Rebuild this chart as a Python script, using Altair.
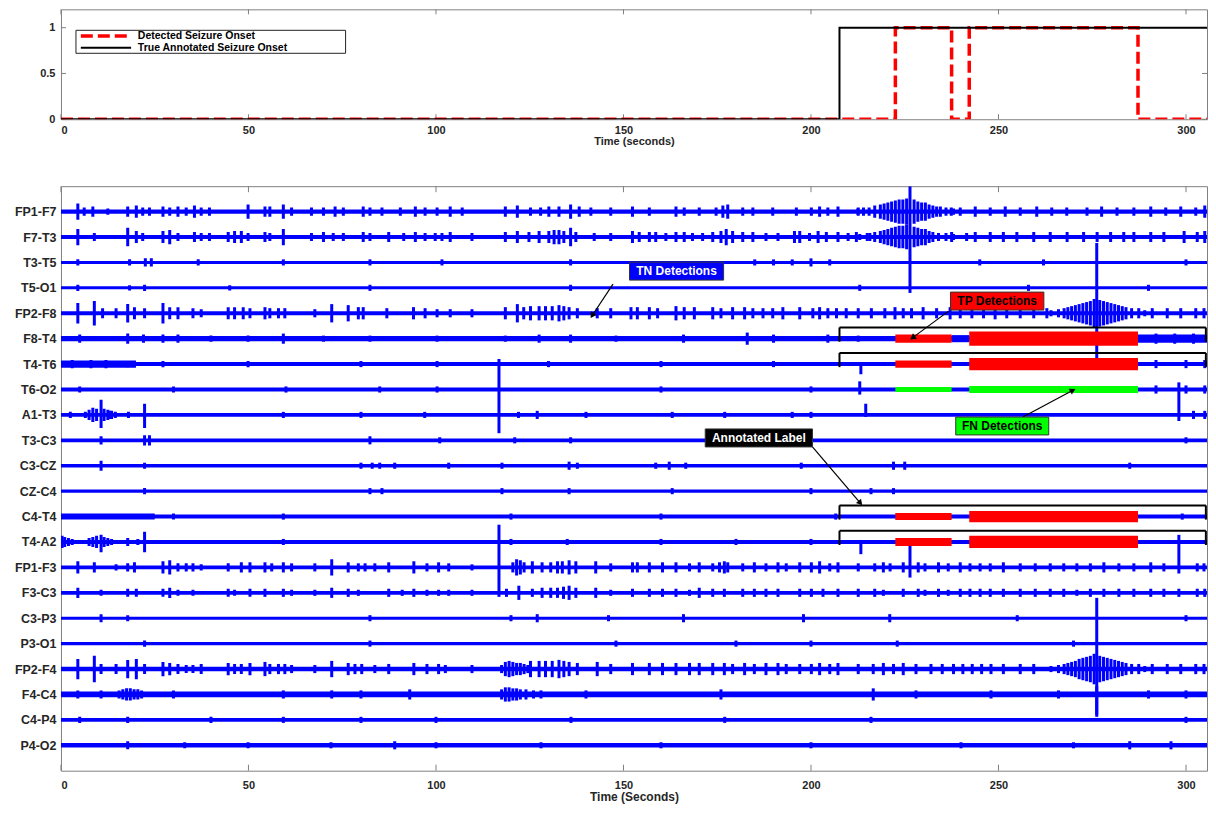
import json
import math
import altair as alt
import pandas as pd

# ---------------- data ----------------
CHANNELS = ["FP1-F7", "F7-T3", "T3-T5", "T5-O1", "FP2-F8", "F8-T4", "T4-T6", "T6-O2",
            "A1-T3", "T3-C3", "C3-CZ", "CZ-C4", "C4-T4", "T4-A2", "FP1-F3", "F3-C3",
            "C3-P3", "P3-O1", "FP2-F4", "F4-C4", "C4-P4", "P4-O2"]
BASE_W = [2.0, 2.0, 1.5, 1.5, 2.0, 2.5, 2.0, 2.0, 1.8, 1.8, 1.8, 1.5,
          2.0, 2.0, 1.8, 1.8, 1.5, 1.5, 2.2, 2.8, 1.8, 2.3]
X_TICKS = [0, 50, 100, 150, 200, 250, 300]
Y_TICKS_TOP = [0, 0.5, 1]
T_END = 305.6          # visible end of the time axis (s)
GAP = 25               # vertical offset between channels

# top panel step signals
TRUE_T = [0, 207.6, 207.6, 307.2]
TRUE_V = [0, 0, 1, 1]
DET_T = [0, 222.5, 222.5, 237.5, 237.5, 242.2, 242.2, 287.2, 287.2, 307.2]
DET_V = [0, 0, 1, 1, 0, 0, 1, 1, 0, 0]
SERIES = ["Detected Seizure Onset", "True Annotated Seizure Onset"]
# legend box (time, value) and sample positions
LEG_BOX = (4.0, 75.9, 0.72, 0.971)
LEG_SAMPLE = (5.3, 18.7)
LEG_TEXT_T = 20.5
LEG_ROW_V = [0.91, 0.78]

ANNOT_ONSET = 207.6
DET_SEGMENTS = [(222.5, 237.5), (242.2, 287.2)]
SEIZURE_CH = {"F8-T4": ("TP", [4, 7]), "T4-T6": ("TP", [3.5, 6]), "T6-O2": ("FN", [2.5, 3.5]),
              "C4-T4": ("TP", [3.5, 5.5]), "T4-A2": ("TP", [4, 6])}
BRACKET_CH = ["F8-T4", "T4-T6", "C4-T4", "T4-A2"]

# spikes: (time s, half amplitude)
SPIKES = {
    "FP1-F7": [(4.5, 8), (6.2, 4), (8.5, 5), (12.5, 3), (17.8, 5), (20.1, 6), (21.8, 4), (23.6, 4), (27.2, 5), (29.0, 4),
               (31.2, 5), (33.4, 4), (35.6, 6), (37.4, 4), (39.6, 4), (49.9, 7), (54.4, 5), (55.7, 5), (59.3, 7), (61.5, 4),
               (66.8, 4), (70.0, 4), (73.1, 5), (75.3, 4), (80.6, 5), (82.4, 4), (85.6, 4), (90.5, 4), (94.5, 5), (97.1, 4),
               (100.3, 4), (103.8, 5), (107.0, 4), (118.5, 5), (121.7, 6), (125.2, 4), (127.9, 4), (130.1, 5), (132.8, 5),
               (135.9, 7), (138.2, 5), (141.3, 4), (146.6, 4), (152.4, 5), (156.9, 4), (164.0, 5), (166.2, 4), (170.2, 4),
               (174.7, 4), (176.5, 6), (177.8, 7), (181.8, 4), (184.5, 4), (189.8, 4), (196.1, 4), (200.1, 4), (202.3, 5),
               (204.5, 4), (207.2, 5), (212.6, 4), (237.4, 4), (239.8, 4), (243.8, 5), (247.8, 4), (251.8, 5), (255.8, 4),
               (260.2, 5), (264.2, 4), (268.2, 4), (273.6, 4), (277.5, 5), (281.6, 4), (286.1, 4), (290.6, 5), (294.6, 4),
               (298.6, 5), (302.6, 4), (305.0, 6),
               # burst around 226 s
               (212.5, 3), (214, 4), (215.5, 4), (217, 6), (218.5, 7), (219.5, 8), (220.5, 9), (221.5, 10), (222.5, 11),
               (223.5, 12), (224.5, 12), (225.5, 13), (227.5, 12), (228.5, 10), (229.5, 9), (230.5, 9), (231.5, 7),
               (232.5, 6), (233.5, 5), (234.5, 5), (236, 4), (238, 3)],
    "F7-T3": [(4.5, 8), (8.9, 4), (17.8, 9), (20.1, 6), (21.8, 4), (27.2, 6), (29.0, 7), (31.2, 4), (35.6, 5), (37.4, 4),
              (39.6, 4), (44.6, 5), (46.3, 6), (48.1, 6), (49.9, 4), (54.4, 5), (55.7, 4), (59.3, 8), (66.8, 4), (70.0, 5),
              (72.6, 4), (75.3, 4), (80.6, 5), (82.4, 4), (87.4, 5), (91.4, 4), (94.5, 5), (97.1, 4), (99.8, 4), (101.6, 4),
              (103.8, 5), (109.6, 4), (118.5, 5), (121.7, 6), (124.8, 5), (127.5, 6), (130.1, 6), (131.5, 7), (132.8, 7),
              (134.1, 6), (135.9, 9), (137.3, 5), (142.2, 4), (146.6, 4), (152.4, 6), (154.2, 5), (156.9, 5), (158.6, 5),
              (161.3, 4), (164.0, 5), (166.2, 5), (168.4, 4), (171.1, 4), (173.8, 5), (176.0, 6), (177.4, 8), (179.1, 6),
              (181.8, 5), (184.5, 5), (188.0, 4), (191.2, 4), (195.6, 6), (197.0, 6), (199.6, 4), (201.9, 6), (204.1, 5),
              (207.2, 5), (209.9, 4), (212.1, 5), (215.7, 4), (237.5, 5), (241.5, 4), (243.8, 5), (247.8, 5), (251.3, 5),
              (254.9, 5), (259.4, 5), (263.8, 5), (268.3, 5), (272.7, 5), (276.3, 5), (279.9, 5), (283.4, 5), (286.1, 5),
              (290.6, 5), (294.1, 5), (299.5, 6), (303.0, 5), (305.0, 6),
              (213, 3), (215, 4), (217, 5), (218.5, 6), (219.5, 7), (220.5, 8), (221.5, 9), (222.5, 10), (223.5, 11),
              (224.5, 11), (225.5, 12), (227.5, 10), (228.5, 9), (229.5, 8), (230.5, 8), (231.5, 6), (232.5, 5),
              (234, 4), (236, 4), (238, 3)],
    "T3-T5": [(4.5, 3), (18.3, 3), (22.5, 4), (24.1, 4), (36.6, 3), (59.3, 3), (82.4, 3), (101.6, 3), (135.9, 3),
              (185.0, 3), (190.0, 3), (195.0, 3), (200.0, 4), (205.0, 3), (245.0, 3), (262.0, 3), (300.0, 3)],
    "T5-O1": [(4.5, 3), (18.3, 2.5), (22.3, 3), (45.0, 2.5), (82.4, 3), (135.9, 3), (213.0, 3), (258.0, 3), (290.0, 3)],
    "FP2-F8": [(4.5, 10), (8.9, 12), (11.1, 5), (14.7, 5), (17.8, 9), (19.6, 6), (22.3, 5), (27.2, 10), (29.0, 6),
               (31.2, 6), (35.2, 5), (37.4, 4), (44.6, 6), (46.3, 6), (48.6, 6), (50.4, 5), (54.4, 6), (55.7, 5), (58.0, 5),
               (59.7, 5), (67.7, 4), (72.2, 9), (76.6, 8), (79.3, 6), (80.6, 6), (86.9, 5), (94.0, 6), (97.1, 5),
               (100.3, 4), (103.8, 4), (109.6, 4), (118.5, 6), (121.7, 9), (123.4, 6), (125.2, 7), (127.5, 7), (129.2, 7),
               (131.0, 7), (132.8, 8), (134.1, 7), (135.5, 6), (137.7, 5), (143.0, 5), (146.6, 5), (152.0, 6), (153.7, 6),
               (156.9, 6), (159.1, 5), (164.0, 7), (166.2, 6), (168.9, 6), (173.8, 6), (176.0, 5), (179.1, 6), (182.3, 6),
               (184.5, 5), (187.2, 5), (189.8, 5), (192.5, 6), (197.0, 6), (200.5, 5), (202.3, 6), (204.5, 5), (206.8, 5),
               (209.4, 5), (212.6, 5), (216.1, 5), (219.7, 5), (222.4, 6), (224.6, 5), (226.8, 5), (229.9, 6), (233.5, 5),
               (237.1, 6), (239.8, 5), (242.9, 5), (246.0, 5), (249.1, 6), (252.2, 5), (255.8, 5), (259.4, 5), (262.9, 5),
               (287.4, 5), (291.0, 5), (295.0, 5), (298.6, 5), (302.6, 5), (304.8, 5),
               (264, 3), (266, 4), (267.5, 5), (268.5, 6), (269.5, 7), (270.5, 8), (271.5, 9), (272.5, 10), (273.5, 11),
               (274.5, 12), (275.5, 14), (277, 13), (278, 12), (279, 11), (280, 10), (281, 9), (282, 8), (283, 7),
               (284, 6), (285.5, 5), (289, 3)],
    "F8-T4": [(5.0, 4), (17.8, 5), (22.0, 4), (27.2, 4), (31.2, 4), (40.0, 3), (49.9, 3), (59.3, 5), (70.0, 3), (82.4, 3),
              (100.3, 3), (118.5, 3), (127.5, 4), (135.9, 4), (148.0, 3), (166.0, 4), (183.0, 6), (190.0, 4), (204.5, 4),
              (212.6, 3), (292.0, 5), (297.0, 5), (302.0, 5)],
    "T4-T6": [(3.0, 4), (8.0, 4), (12.0, 4), (17.8, 3), (27.2, 3), (49.9, 3), (80.0, 3), (100.3, 3), (130.0, 3),
              (160.0, 3), (190.0, 3), (292.0, 4), (300.0, 4), (305.0, 4)],
    "T6-O2": [(5.0, 3), (30.0, 3), (60.0, 3), (85.0, 3), (100.3, 3), (160.0, 3), (200.0, 3), (292.0, 4), (300.0, 4),
              (305.0, 4)],
    "A1-T3": [(2.5, 3), (13.0, 4), (18.0, 3), (59.3, 3), (80.0, 3), (97.0, 3), (122.0, 3), (127.0, 4), (140.0, 3),
              (163.0, 3), (177.0, 3), (195.0, 3), (200.0, 3), (302.0, 4), (305.0, 4),
              (6.5, 3), (7.5, 5), (8.5, 7), (9.5, 6), (11.5, 6), (12.5, 5), (13.5, 4), (14.5, 3)],
    "T3-C3": [(10.7, 4), (22.3, 5), (23.6, 5), (82.4, 4), (101.0, 3), (121.0, 3), (135.9, 3), (182.0, 4), (300.0, 3)],
    "C3-CZ": [(10.7, 5), (22.3, 3), (80.0, 3), (83.0, 3), (85.0, 3), (89.0, 3), (103.4, 3), (117.6, 3), (135.5, 4),
              (137.7, 3), (158.6, 3), (162.2, 4), (166.6, 3), (197.4, 3), (222.0, 4), (225.0, 4), (285.0, 3)],
    "CZ-C4": [(22.3, 3), (82.4, 3), (85.6, 3), (117.6, 3), (135.5, 3), (163.0, 3), (200.0, 3), (216.0, 3), (222.0, 3)],
    "C4-T4": [(30.0, 3), (59.3, 3), (120.0, 3), (160.0, 3), (206.6, 3), (223.0, 3), (299.0, 3)],
    "T4-A2": [(2.0, 4), (17.8, 4), (20.5, 3), (59.3, 3), (120.0, 3), (135.0, 3), (160.0, 3), (180.0, 3), (200.0, 3),
              (0.3, 6), (1.0, 5), (3.0, 3), (7.5, 4), (8.5, 5), (9.5, 6), (11.5, 5), (12.5, 4), (13.5, 3)],
    "FP1-F3": [(4.5, 6), (8.9, 5), (14.7, 3), (17.8, 4), (19.6, 5), (27.2, 6), (29.0, 7), (31.2, 4), (33.4, 4), (35.2, 4),
               (37.4, 3), (44.6, 4), (48.1, 5), (50.4, 5), (54.4, 5), (56.2, 4), (59.3, 5), (61.5, 4), (67.7, 4), (72.2, 8),
               (76.6, 5), (79.3, 4), (81.1, 4), (83.7, 4), (87.4, 5), (94.1, 6), (97.6, 4), (100.7, 5), (103.4, 4),
               (109.6, 3), (125.7, 6), (128.3, 5), (130.6, 5), (132.4, 6), (133.7, 6), (135.5, 7), (137.3, 6), (142.6, 6),
               (146.6, 4), (152.4, 5), (153.7, 5), (156.9, 5), (160.4, 5), (164.0, 5), (167.6, 4), (170.2, 5), (173.8, 4),
               (175.6, 5), (176.9, 6), (177.8, 5), (181.8, 4), (184.9, 5), (188.0, 4), (191.2, 5), (193.4, 4), (197.0, 5),
               (200.1, 5), (202.3, 6), (205.0, 4), (207.2, 5), (212.6, 4), (217.0, 4), (219.3, 5), (221.1, 4), (224.6, 5),
               (228.6, 5), (230.4, 4), (234.0, 5), (236.6, 4), (239.8, 5), (242.4, 4), (245.1, 4), (247.8, 4), (251.3, 5),
               (255.8, 4), (259.8, 4), (263.8, 4), (267.4, 4), (270.9, 4), (274.5, 4), (278.1, 5), (282.1, 4), (286.1, 4),
               (290.6, 5), (294.1, 4), (303.0, 4), (304.8, 4),
               (120.5, 5), (121.5, 8), (122.5, 7), (123.5, 5)],
    "F3-C3": [(4.5, 5), (10.7, 3), (17.8, 4), (20.1, 4), (27.2, 4), (29.0, 5), (31.2, 3), (35.2, 3), (44.6, 4), (46.3, 3),
              (50.4, 4), (54.4, 4), (59.3, 4), (61.5, 3), (67.7, 3), (72.2, 5), (76.6, 4), (79.3, 3), (87.4, 4), (91.0, 3),
              (94.1, 4), (97.6, 3), (100.7, 3), (103.4, 3), (109.6, 3), (118.8, 4), (122.1, 7), (125.7, 4), (128.3, 5),
              (130.6, 5), (132.4, 5), (134.0, 6), (135.5, 7), (137.3, 5), (142.6, 5), (146.6, 3), (152.4, 4), (156.9, 4),
              (160.4, 4), (164.0, 4), (167.6, 3), (170.2, 5), (173.8, 4), (176.9, 4), (181.8, 4), (184.9, 4), (188.0, 4),
              (191.2, 4), (197.0, 4), (200.1, 4), (203.2, 4), (207.2, 4), (212.6, 4), (217.0, 4), (219.3, 3), (224.6, 4),
              (228.6, 4), (230.4, 3), (234.0, 4), (236.6, 3), (239.8, 4), (242.4, 4), (245.1, 4), (247.8, 4), (251.3, 4),
              (255.8, 4), (259.8, 4), (263.8, 4), (267.4, 4), (270.9, 3), (274.5, 4), (278.1, 4), (282.1, 4), (286.1, 4),
              (290.6, 4), (294.1, 4), (298.1, 4), (303.0, 4), (305.0, 4)],
    "C3-P3": [(10.7, 4), (17.8, 3), (82.4, 3), (120.0, 3), (127.0, 4), (146.0, 3), (166.0, 4), (198.0, 4), (221.0, 4),
              (255.0, 3), (300.0, 3)],
    "P3-O1": [(22.3, 3), (82.4, 3), (148.0, 3), (180.0, 3), (200.0, 3), (223.0, 3), (270.0, 3)],
    "FP2-F4": [(4.5, 10), (8.9, 13), (10.7, 5), (14.7, 5), (17.8, 9), (20.1, 10), (22.3, 5), (27.2, 7), (29.0, 6),
               (31.2, 5), (33.4, 4), (35.2, 4), (37.4, 5), (44.6, 6), (46.3, 5), (48.1, 5), (50.4, 6), (54.4, 7), (55.7, 5),
               (58.0, 5), (59.7, 5), (61.5, 4), (67.7, 4), (72.2, 8), (76.6, 6), (78.4, 5), (80.2, 5), (83.7, 4), (87.4, 5),
               (94.1, 6), (97.6, 5), (100.7, 5), (102.5, 4), (109.6, 4), (125.2, 8), (127.5, 8), (129.2, 8), (131.0, 8),
               (132.8, 9), (134.1, 8), (135.5, 7), (137.7, 6), (143.0, 7), (146.6, 5), (152.4, 6), (156.9, 6), (160.4, 6),
               (164.0, 6), (167.6, 6), (170.2, 6), (173.8, 6), (176.9, 6), (179.1, 5), (182.3, 6), (184.9, 5), (188.0, 6),
               (191.2, 6), (193.4, 5), (197.0, 5), (200.1, 5), (202.3, 6), (205.0, 5), (207.2, 6), (212.6, 5), (216.6, 5),
               (219.3, 6), (222.0, 5), (224.6, 6), (228.0, 5), (232.0, 5), (235.0, 5), (238.0, 5), (240.5, 5), (243.0, 5),
               (245.5, 5), (248.0, 5), (251.3, 5), (255.8, 5), (259.4, 5), (287.4, 5), (291.0, 5), (295.0, 5), (298.6, 5),
               (302.6, 5), (304.8, 5),
               (264, 3), (266, 4), (267.5, 5), (268.5, 6), (269.5, 7), (270.5, 8), (271.5, 10), (272.5, 11), (273.5, 12),
               (274.5, 13), (275.5, 15), (277, 13), (278, 12), (279, 11), (280, 10), (281, 9), (282, 8), (283, 7),
               (284, 6), (285.5, 5), (289, 3),
               (117.5, 4), (118.5, 7), (119.5, 8), (120.5, 7), (121.5, 6), (122.5, 6), (123.5, 5), (124.5, 4)],
    "F4-C4": [(4.5, 4), (10.7, 4), (30.0, 4), (59.3, 4), (72.2, 4), (80.0, 4), (93.0, 5), (140.0, 4), (176.0, 5),
              (216.6, 6), (228.0, 4), (248.0, 4), (266.0, 4), (290.0, 4), (300.0, 4),
              (15.5, 4), (16.5, 5), (17.5, 6), (18.5, 6), (19.5, 5), (20.5, 5), (21.5, 4),
              (117.5, 5), (118.5, 7), (119.5, 7), (120.5, 6), (121.5, 6), (122.5, 5), (124, 5), (126, 4), (128, 4)],
    "C4-P4": [(5.0, 3), (17.8, 3), (40.0, 3), (59.3, 3), (80.0, 3), (100.0, 3), (136.0, 3), (177.0, 3), (216.0, 3),
              (300.0, 3)],
    "P4-O2": [(17.8, 4), (33.0, 3), (49.9, 3), (72.0, 3), (89.0, 4), (100.0, 3), (128.0, 3), (160.0, 3), (200.0, 3),
              (240.0, 3), (270.0, 3), (285.0, 4), (296.0, 4)],
}

# large / asymmetric spikes: (channel, time, up, down)
BIG_SPIKES = [
    ("F7-T3", 226.4, 50, 55), ("FP2-F8", 276.2, 69, 46), ("FP2-F4", 276.2, 70, 47),
    ("T6-O2", 116.8, 30, 43), ("T4-A2", 116.8, 17, 54), ("T6-O2", 298.1, 7, 31),
    ("T4-T6", 213.3, 2, 10), ("T6-O2", 213.0, 8, 5), ("A1-T3", 214.6, 11, 2),
    ("A1-T3", 10.7, 15, 13), ("A1-T3", 22.3, 11, 13), ("T4-A2", 10.7, 7, 10),
    ("T4-A2", 22.3, 10, 10), ("T4-A2", 213.3, 2, 12), ("FP1-F3", 226.4, 24, 10),
    ("FP1-F3", 298.1, 32, 6), ("F4-C4", 276.2, 8, 20),
]

# stretches where a trace is thicker: (channel, t0, t1, half amplitude)
THICK = [("T4-T6", 0, 20, 3.5), ("C4-T4", 0, 25, 3), ("F8-T4", 287.2, 307.2, 4), ("F8-T4", 237.5, 242.2, 3.5)]

# text annotations: label, fill, text colour, box (t0, t1, u0, u1), arrow tail (t, u), arrow head (t, u)
ANNOTS = [
    ("TN Detections", "#0000ff", "white", (151.6, 176.7, 482.6, 500.3), (147.2, 478.7), (141.8, 448.5)),
    ("TP Detections", "#ff0000", "black", (237.2, 262.1, 453.1, 470.8), (236.7, 452.1), (227.3, 426.5)),
    ("FN Detections", "#00ff00", "black", (238.6, 263.4, 330.3, 347.9), (256.5, 347.9), (269.6, 373.8)),
    ("Annotated Label", "#000000", "white", (171.8, 200.4, 318.5, 336.2), (200.4, 318.5), (213.0, 264.0)),
]

# ---------------- layout constants ----------------
W = 1147
H_TOP = 110
H_BOT = 585
Y_MAX_TOP = 1.2
Y_MAX_BOT = GAP * (len(CHANNELS) + 1)
BLUE = "#0000ff"
AX_GRAY = "#808080"
TXT = "#262626"
FONT = "Liberation Sans"


def off(ch):
    return GAP * (len(CHANNELS) - CHANNELS.index(ch))


xs = alt.Scale(domain=[0, T_END], nice=False, zero=False)
ys_top = alt.Scale(domain=[0, Y_MAX_TOP], nice=False, zero=False)
ys_bot = alt.Scale(domain=[0, Y_MAX_BOT], nice=False, zero=False)

AX_X_TOP = alt.Axis(values=X_TICKS, title="Time (seconds)", ticks=False, domain=False, grid=False,
                    labelPadding=5, titlePadding=0, labelFontSize=11, titleFontSize=11)
AX_Y_TOP = alt.Axis(values=Y_TICKS_TOP, format=".1~f", title=None, ticks=False, domain=False, grid=False,
                    labelPadding=6, labelFontSize=11, minExtent=52, maxExtent=52)
y_labels_expr = json.dumps(CHANNELS) + f"[round({len(CHANNELS)} - datum.value / {GAP})]"
AX_X_BOT = alt.Axis(values=X_TICKS, title="Time (Seconds)", ticks=False, domain=False, grid=False,
                    labelPadding=9, titlePadding=1, labelFontSize=11, titleFontSize=12)
AX_Y_BOT = alt.Axis(values=[off(c) for c in CHANNELS], labelExpr=y_labels_expr, title=None, ticks=False,
                    domain=False, grid=False, labelPadding=5, labelFontSize=12.5, minExtent=52, maxExtent=52)


def XT(f):
    return alt.X(f, scale=xs, axis=AX_X_TOP)


def YT(f):
    return alt.Y(f, scale=ys_top, axis=AX_Y_TOP)


def XB(f):
    return alt.X(f, scale=xs, axis=AX_X_BOT)


def YB(f):
    return alt.Y(f, scale=ys_bot, axis=AX_Y_BOT)


# ---------------- top panel ----------------
rows = []
k = 0
for t, v in zip(DET_T, DET_V):
    rows.append(dict(series=SERIES[0], t=t, v=v, ord=k)); k += 1
for t, v in zip(TRUE_T, TRUE_V):
    rows.append(dict(series=SERIES[1], t=t, v=v, ord=k)); k += 1
top_df = pd.DataFrame(rows)

det_line = alt.Chart(top_df[top_df.series == SERIES[0]]).mark_line(
    color="#ff0000", strokeWidth=3.5, strokeDash=[12, 5], clip=True).encode(x=XT("t:Q"), y=YT("v:Q"), order="ord:Q")
true_line = alt.Chart(top_df[top_df.series == SERIES[1]]).mark_line(
    color="#000000", strokeWidth=2, clip=True).encode(x=XT("t:Q"), y=YT("v:Q"), order="ord:Q")

leg_box = alt.Chart(pd.DataFrame([dict(x0=LEG_BOX[0], x1=LEG_BOX[1], y0=LEG_BOX[2], y1=LEG_BOX[3])])).mark_rect(
    fill="white", stroke="#222222", strokeWidth=1).encode(x=XT("x0:Q"), x2="x1:Q", y=YT("y0:Q"), y2="y1:Q")
leg_df = pd.DataFrame([dict(s=s, x0=LEG_SAMPLE[0], x1=LEG_SAMPLE[1], tx=LEG_TEXT_T, v=v)
                       for s, v in zip(SERIES, LEG_ROW_V)])
leg_det = alt.Chart(leg_df.iloc[[0]]).mark_rule(color="#ff0000", strokeWidth=3.5, strokeDash=[12, 5]).encode(
    x=XT("x0:Q"), x2="x1:Q", y=YT("v:Q"))
leg_true = alt.Chart(leg_df.iloc[[1]]).mark_rule(color="#000000", strokeWidth=2).encode(
    x=XT("x0:Q"), x2="x1:Q", y=YT("v:Q"))
leg_txt = alt.Chart(leg_df).mark_text(align="left", baseline="middle", fontSize=10.5, fontWeight="bold",
                                      font=FONT, color="black").encode(x=XT("tx:Q"), y=YT("v:Q"), text="s:N")

xt_df = pd.DataFrame({"t": X_TICKS})
yt_df = pd.DataFrame({"v": Y_TICKS_TOP})
top_ticks = [
    alt.Chart(xt_df).mark_rule(color=AX_GRAY).encode(x=XT("t:Q"), y=alt.value(H_TOP), y2=alt.value(H_TOP - 5)),
    alt.Chart(xt_df).mark_rule(color=AX_GRAY).encode(x=XT("t:Q"), y=alt.value(0), y2=alt.value(5)),
    alt.Chart(yt_df).mark_rule(color=AX_GRAY).encode(y=YT("v:Q"), x=alt.value(0), x2=alt.value(5)),
    alt.Chart(yt_df).mark_rule(color=AX_GRAY).encode(y=YT("v:Q"), x=alt.value(W - 5), x2=alt.value(W)),
]
top = alt.layer(*top_ticks, det_line, true_line, leg_box, leg_det, leg_true, leg_txt).properties(
    width=W, height=H_TOP)

# ---------------- bottom panel ----------------
base_df = pd.DataFrame([dict(x0=0, x1=T_END, lo=off(c) - w, hi=off(c) + w) for c, w in zip(CHANNELS, BASE_W)])
thick_df = pd.DataFrame([dict(x0=t0, x1=min(t1, T_END), lo=off(c) - a, hi=off(c) + a) for c, t0, t1, a in THICK])

sp_rows = []
for c, lst in SPIKES.items():
    for t, a in lst:
        sp_rows.append(dict(t=t, lo=off(c) - a, hi=off(c) + a))
for c, t, up, dn in BIG_SPIKES:
    sp_rows.append(dict(t=t, lo=off(c) - dn, hi=min(off(c) + up, Y_MAX_BOT)))
sp_df = pd.DataFrame(sp_rows)

seg_rows = []
for c, (kind, amps) in SEIZURE_CH.items():
    for (t0, t1), a in zip(DET_SEGMENTS, amps):
        seg_rows.append(dict(kind=kind, x0=t0, x1=t1, lo=off(c) - a, hi=off(c) + a))
seg_df = pd.DataFrame(seg_rows)

br_rows = []
for c in BRACKET_CH:
    top_u = off(c) + 11
    low_u = off(c) - 3
    br_end = T_END - 0.3
    br_rows.append(dict(x0=ANNOT_ONSET, x1=br_end, y0=top_u, y1=top_u))
    br_rows.append(dict(x0=ANNOT_ONSET, x1=ANNOT_ONSET, y0=top_u, y1=low_u))
    br_rows.append(dict(x0=br_end, x1=br_end, y0=top_u, y1=low_u))
br_df = pd.DataFrame(br_rows)

px_t = W / T_END
px_u = H_BOT / Y_MAX_BOT
box_rows, arr_rows, head_rows = [], [], []
for label, fill, tcol, (t0, t1, u0, u1), (tt, tu), (ht, hu) in ANNOTS:
    box_rows.append(dict(label=label, fill=fill, tcol=tcol, x0=t0, x1=t1, y0=u0, y1=u1,
                         xm=(t0 + t1) / 2, ym=(u0 + u1) / 2))
    arr_rows.append(dict(x0=tt, x1=ht, y0=tu, y1=hu))
    dx = (ht - tt) * px_t
    dy = -(hu - tu) * px_u
    ang = math.degrees(math.atan2(dx, -dy)) % 360
    head_rows.append(dict(t=ht, u=hu, ang=ang))
box_df = pd.DataFrame(box_rows)
arr_df = pd.DataFrame(arr_rows)
head_df = pd.DataFrame(head_rows)

base_layer = alt.Chart(base_df).mark_rect(color=BLUE, clip=True).encode(
    x=XB("x0:Q"), x2="x1:Q", y=YB("lo:Q"), y2="hi:Q")
thick_layer = alt.Chart(thick_df).mark_rect(color=BLUE, clip=True).encode(
    x=XB("x0:Q"), x2="x1:Q", y=YB("lo:Q"), y2="hi:Q")
spike_layer = alt.Chart(sp_df).mark_rule(color=BLUE, strokeWidth=3, clip=True).encode(
    x=XB("t:Q"), y=YB("lo:Q"), y2="hi:Q")
seg_layer = alt.Chart(seg_df).mark_rect(clip=True).encode(
    x=XB("x0:Q"), x2="x1:Q", y=YB("lo:Q"), y2="hi:Q",
    color=alt.Color("kind:N", scale=alt.Scale(domain=["TP", "FN"], range=["#ff0000", "#00ff00"]), legend=None))
br_layer = alt.Chart(br_df).mark_rule(color="black", strokeWidth=2).encode(
    x=XB("x0:Q"), x2="x1:Q", y=YB("y0:Q"), y2="y1:Q")
arr_layer = alt.Chart(arr_df).mark_rule(color="black", strokeWidth=1.2).encode(
    x=XB("x0:Q"), x2="x1:Q", y=YB("y0:Q"), y2="y1:Q")
head_layer = alt.Chart(head_df).mark_point(shape="triangle", filled=True, color="black", size=45, opacity=1).encode(
    x=XB("t:Q"), y=YB("u:Q"), angle=alt.Angle("ang:Q", scale=None))
box_layer = alt.Chart(box_df).mark_rect(stroke="#333333", strokeWidth=1).encode(
    x=XB("x0:Q"), x2="x1:Q", y=YB("y0:Q"), y2="y1:Q", fill=alt.Fill("fill:N", scale=None))
txt_layer = alt.Chart(box_df).mark_text(fontWeight="bold", fontSize=12, font=FONT).encode(
    x=XB("xm:Q"), y=YB("ym:Q"), text="label:N", color=alt.Color("tcol:N", scale=None))

bot_ticks = [
    alt.Chart(xt_df).mark_rule(color=AX_GRAY).encode(x=XB("t:Q"), y=alt.value(H_BOT), y2=alt.value(H_BOT - 6)),
    alt.Chart(xt_df).mark_rule(color=AX_GRAY).encode(x=XB("t:Q"), y=alt.value(0), y2=alt.value(6)),
]

bottom = alt.layer(base_layer, thick_layer, spike_layer, seg_layer, br_layer, *bot_ticks,
                   arr_layer, head_layer, box_layer, txt_layer).properties(width=W, height=H_BOT)

chart = alt.vconcat(top, bottom, spacing=38).properties(
    padding={"top": 0, "left": 0, "right": 0, "bottom": 0}
).configure(font=FONT).configure_view(stroke=AX_GRAY, strokeWidth=1).configure_axis(
    labelFont=FONT, titleFont=FONT, labelFontWeight="bold", titleFontWeight="bold",
    labelColor=TXT, titleColor=TXT
)

chart.save("out.html", embed_options={"renderer": "svg", "actions": False})
